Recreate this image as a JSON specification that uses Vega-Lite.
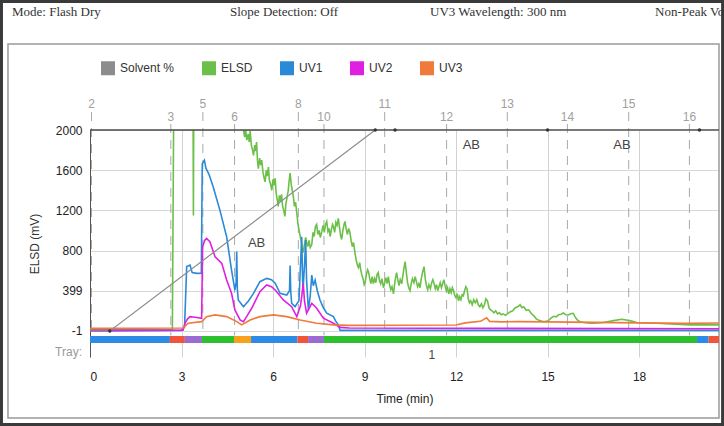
{
  "$schema": "https://vega.github.io/schema/vega-lite/v6.json",
  "width": 629,
  "height": 227,
  "autosize": {"type": "none"},
  "padding": {"left": 90, "top": 130, "right": 5, "bottom": 69},
  "background": "white",
  "config": {
    "view": {"stroke": null},
    "font": "Liberation Sans",
    "axis": {"labelFont": "Liberation Sans", "titleFont": "Liberation Sans", "titleFontWeight": "normal"}
  },
  "datasets": {
    "signals": [
      {"t": 0, "v": 10, "series": "ELSD"}, {"t": 2.7, "v": 12, "series": "ELSD"}, {"t": 2.76, "v": 3000, "series": "ELSD"}, {"t": 3.37, "v": 3000, "series": "ELSD"}, {"t": 3.39, "v": 1150, "series": "ELSD"}, {"t": 3.41, "v": 3000, "series": "ELSD"}, {"t": 5.0, "v": 3000, "series": "ELSD"},
      {"t": 5.03, "v": 2000, "series": "ELSD"}, {"t": 5.07, "v": 1930, "series": "ELSD"}, {"t": 5.1, "v": 2010, "series": "ELSD"}, {"t": 5.14, "v": 1900, "series": "ELSD"}, {"t": 5.19, "v": 1960, "series": "ELSD"}, {"t": 5.22, "v": 1880, "series": "ELSD"}, {"t": 5.25, "v": 1990, "series": "ELSD"}, {"t": 5.29, "v": 1850, "series": "ELSD"}, {"t": 5.33, "v": 1800, "series": "ELSD"}, {"t": 5.36, "v": 1748, "series": "ELSD"}, {"t": 5.4, "v": 1850, "series": "ELSD"}, {"t": 5.43, "v": 1790, "series": "ELSD"}, {"t": 5.46, "v": 1880, "series": "ELSD"}, {"t": 5.49, "v": 1700, "series": "ELSD"}, {"t": 5.52, "v": 1615, "series": "ELSD"}, {"t": 5.56, "v": 1720, "series": "ELSD"}, {"t": 5.6, "v": 1650, "series": "ELSD"}, {"t": 5.63, "v": 1700, "series": "ELSD"}, {"t": 5.67, "v": 1580, "series": "ELSD"}, {"t": 5.71, "v": 1520, "series": "ELSD"}, {"t": 5.74, "v": 1483, "series": "ELSD"}, {"t": 5.78, "v": 1600, "series": "ELSD"}, {"t": 5.81, "v": 1540, "series": "ELSD"}, {"t": 5.85, "v": 1630, "series": "ELSD"}, {"t": 5.88, "v": 1500, "series": "ELSD"}, {"t": 5.92, "v": 1460, "series": "ELSD"}, {"t": 5.96, "v": 1400, "series": "ELSD"}, {"t": 6.0, "v": 1510, "series": "ELSD"}, {"t": 6.03, "v": 1450, "series": "ELSD"}, {"t": 6.07, "v": 1520, "series": "ELSD"}, {"t": 6.1, "v": 1380, "series": "ELSD"}, {"t": 6.14, "v": 1300, "series": "ELSD"}, {"t": 6.17, "v": 1240, "series": "ELSD"}, {"t": 6.21, "v": 1350, "series": "ELSD"}, {"t": 6.24, "v": 1290, "series": "ELSD"}, {"t": 6.28, "v": 1360, "series": "ELSD"}, {"t": 6.31, "v": 1250, "series": "ELSD"}, {"t": 6.35, "v": 1200, "series": "ELSD"}, {"t": 6.39, "v": 1140, "series": "ELSD"}, {"t": 6.42, "v": 1260, "series": "ELSD"}, {"t": 6.46, "v": 1330, "series": "ELSD"}, {"t": 6.5, "v": 1400, "series": "ELSD"}, {"t": 6.53, "v": 1500, "series": "ELSD"}, {"t": 6.56, "v": 1570, "series": "ELSD"}, {"t": 6.6, "v": 1450, "series": "ELSD"}, {"t": 6.63, "v": 1400, "series": "ELSD"}, {"t": 6.67, "v": 1330, "series": "ELSD"}, {"t": 6.7, "v": 1240, "series": "ELSD"}, {"t": 6.74, "v": 1280, "series": "ELSD"}, {"t": 6.78, "v": 1170, "series": "ELSD"}, {"t": 6.82, "v": 1060, "series": "ELSD"}, {"t": 6.86, "v": 990, "series": "ELSD"}, {"t": 6.89, "v": 940, "series": "ELSD"}, {"t": 6.93, "v": 880, "series": "ELSD"}, {"t": 6.96, "v": 820, "series": "ELSD"}, {"t": 6.99, "v": 780, "series": "ELSD"}, {"t": 7.03, "v": 860, "series": "ELSD"}, {"t": 7.07, "v": 930, "series": "ELSD"}, {"t": 7.1, "v": 880, "series": "ELSD"}, {"t": 7.14, "v": 840, "series": "ELSD"}, {"t": 7.18, "v": 900, "series": "ELSD"}, {"t": 7.22, "v": 830, "series": "ELSD"}, {"t": 7.27, "v": 860, "series": "ELSD"}, {"t": 7.31, "v": 980, "series": "ELSD"}, {"t": 7.35, "v": 940, "series": "ELSD"}, {"t": 7.39, "v": 1040, "series": "ELSD"}, {"t": 7.43, "v": 1060, "series": "ELSD"}, {"t": 7.47, "v": 960, "series": "ELSD"}, {"t": 7.51, "v": 1000, "series": "ELSD"}, {"t": 7.55, "v": 930, "series": "ELSD"}, {"t": 7.6, "v": 990, "series": "ELSD"}, {"t": 7.64, "v": 1050, "series": "ELSD"}, {"t": 7.68, "v": 980, "series": "ELSD"}, {"t": 7.72, "v": 1060, "series": "ELSD"}, {"t": 7.76, "v": 1090, "series": "ELSD"}, {"t": 7.8, "v": 990, "series": "ELSD"}, {"t": 7.84, "v": 1020, "series": "ELSD"}, {"t": 7.87, "v": 940, "series": "ELSD"}, {"t": 7.91, "v": 1000, "series": "ELSD"}, {"t": 7.95, "v": 1060, "series": "ELSD"}, {"t": 7.98, "v": 1040, "series": "ELSD"}, {"t": 8.02, "v": 980, "series": "ELSD"}, {"t": 8.06, "v": 1080, "series": "ELSD"}, {"t": 8.1, "v": 1050, "series": "ELSD"}, {"t": 8.14, "v": 1120, "series": "ELSD"}, {"t": 8.18, "v": 1030, "series": "ELSD"}, {"t": 8.22, "v": 940, "series": "ELSD"}, {"t": 8.25, "v": 910, "series": "ELSD"}, {"t": 8.29, "v": 1000, "series": "ELSD"}, {"t": 8.33, "v": 1060, "series": "ELSD"}, {"t": 8.36, "v": 1090, "series": "ELSD"}, {"t": 8.4, "v": 1010, "series": "ELSD"}, {"t": 8.44, "v": 960, "series": "ELSD"}, {"t": 8.48, "v": 1020, "series": "ELSD"}, {"t": 8.52, "v": 980, "series": "ELSD"}, {"t": 8.56, "v": 900, "series": "ELSD"}, {"t": 8.6, "v": 840, "series": "ELSD"}, {"t": 8.64, "v": 880, "series": "ELSD"}, {"t": 8.69, "v": 770, "series": "ELSD"}, {"t": 8.73, "v": 700, "series": "ELSD"}, {"t": 8.77, "v": 650, "series": "ELSD"}, {"t": 8.8, "v": 630, "series": "ELSD"}, {"t": 8.84, "v": 680, "series": "ELSD"}, {"t": 8.88, "v": 600, "series": "ELSD"}, {"t": 8.91, "v": 560, "series": "ELSD"}, {"t": 8.95, "v": 520, "series": "ELSD"}, {"t": 8.99, "v": 460, "series": "ELSD"}, {"t": 9.02, "v": 480, "series": "ELSD"}, {"t": 9.06, "v": 560, "series": "ELSD"}, {"t": 9.1, "v": 610, "series": "ELSD"}, {"t": 9.13, "v": 590, "series": "ELSD"}, {"t": 9.17, "v": 520, "series": "ELSD"}, {"t": 9.21, "v": 470, "series": "ELSD"}, {"t": 9.25, "v": 540, "series": "ELSD"}, {"t": 9.29, "v": 470, "series": "ELSD"}, {"t": 9.33, "v": 520, "series": "ELSD"}, {"t": 9.37, "v": 480, "series": "ELSD"}, {"t": 9.41, "v": 560, "series": "ELSD"}, {"t": 9.45, "v": 580, "series": "ELSD"}, {"t": 9.49, "v": 500, "series": "ELSD"}, {"t": 9.53, "v": 470, "series": "ELSD"}, {"t": 9.57, "v": 520, "series": "ELSD"}, {"t": 9.62, "v": 430, "series": "ELSD"}, {"t": 9.66, "v": 480, "series": "ELSD"}, {"t": 9.7, "v": 530, "series": "ELSD"}, {"t": 9.74, "v": 470, "series": "ELSD"}, {"t": 9.78, "v": 540, "series": "ELSD"}, {"t": 9.82, "v": 460, "series": "ELSD"}, {"t": 9.86, "v": 410, "series": "ELSD"}, {"t": 9.9, "v": 440, "series": "ELSD"}, {"t": 9.95, "v": 370, "series": "ELSD"}, {"t": 10.0, "v": 500, "series": "ELSD"}, {"t": 10.05, "v": 580, "series": "ELSD"}, {"t": 10.09, "v": 510, "series": "ELSD"}, {"t": 10.13, "v": 450, "series": "ELSD"}, {"t": 10.17, "v": 510, "series": "ELSD"}, {"t": 10.22, "v": 470, "series": "ELSD"}, {"t": 10.26, "v": 560, "series": "ELSD"}, {"t": 10.29, "v": 620, "series": "ELSD"}, {"t": 10.33, "v": 690, "series": "ELSD"}, {"t": 10.37, "v": 580, "series": "ELSD"}, {"t": 10.41, "v": 480, "series": "ELSD"}, {"t": 10.45, "v": 430, "series": "ELSD"}, {"t": 10.49, "v": 400, "series": "ELSD"}, {"t": 10.53, "v": 470, "series": "ELSD"}, {"t": 10.57, "v": 520, "series": "ELSD"}, {"t": 10.62, "v": 480, "series": "ELSD"}, {"t": 10.66, "v": 540, "series": "ELSD"}, {"t": 10.7, "v": 490, "series": "ELSD"}, {"t": 10.74, "v": 440, "series": "ELSD"}, {"t": 10.78, "v": 470, "series": "ELSD"}, {"t": 10.82, "v": 430, "series": "ELSD"}, {"t": 10.86, "v": 520, "series": "ELSD"}, {"t": 10.9, "v": 580, "series": "ELSD"}, {"t": 10.95, "v": 640, "series": "ELSD"}, {"t": 10.99, "v": 520, "series": "ELSD"}, {"t": 11.03, "v": 450, "series": "ELSD"}, {"t": 11.07, "v": 410, "series": "ELSD"}, {"t": 11.11, "v": 460, "series": "ELSD"}, {"t": 11.16, "v": 420, "series": "ELSD"}, {"t": 11.2, "v": 480, "series": "ELSD"}, {"t": 11.24, "v": 510, "series": "ELSD"}, {"t": 11.28, "v": 470, "series": "ELSD"}, {"t": 11.32, "v": 420, "series": "ELSD"}, {"t": 11.36, "v": 460, "series": "ELSD"}, {"t": 11.4, "v": 400, "series": "ELSD"}, {"t": 11.44, "v": 440, "series": "ELSD"}, {"t": 11.48, "v": 480, "series": "ELSD"}, {"t": 11.52, "v": 430, "series": "ELSD"}, {"t": 11.56, "v": 470, "series": "ELSD"}, {"t": 11.6, "v": 510, "series": "ELSD"}, {"t": 11.64, "v": 450, "series": "ELSD"}, {"t": 11.68, "v": 400, "series": "ELSD"}, {"t": 11.72, "v": 430, "series": "ELSD"}, {"t": 11.76, "v": 370, "series": "ELSD"}, {"t": 11.8, "v": 420, "series": "ELSD"}, {"t": 11.84, "v": 380, "series": "ELSD"}, {"t": 11.88, "v": 430, "series": "ELSD"}, {"t": 11.92, "v": 400, "series": "ELSD"}, {"t": 11.96, "v": 350, "series": "ELSD"}, {"t": 12.0, "v": 330, "series": "ELSD"}, {"t": 12.04, "v": 370, "series": "ELSD"}, {"t": 12.08, "v": 300, "series": "ELSD"}, {"t": 12.12, "v": 340, "series": "ELSD"}, {"t": 12.16, "v": 310, "series": "ELSD"}, {"t": 12.2, "v": 360, "series": "ELSD"}, {"t": 12.24, "v": 350, "series": "ELSD"}, {"t": 12.28, "v": 400, "series": "ELSD"}, {"t": 12.32, "v": 440, "series": "ELSD"}, {"t": 12.36, "v": 420, "series": "ELSD"}, {"t": 12.4, "v": 320, "series": "ELSD"}, {"t": 12.44, "v": 280, "series": "ELSD"}, {"t": 12.48, "v": 300, "series": "ELSD"}, {"t": 12.53, "v": 260, "series": "ELSD"}, {"t": 12.58, "v": 310, "series": "ELSD"}, {"t": 12.63, "v": 280, "series": "ELSD"}, {"t": 12.68, "v": 310, "series": "ELSD"}, {"t": 12.73, "v": 260, "series": "ELSD"}, {"t": 12.78, "v": 240, "series": "ELSD"}, {"t": 12.83, "v": 270, "series": "ELSD"}, {"t": 12.88, "v": 230, "series": "ELSD"}, {"t": 12.93, "v": 260, "series": "ELSD"}, {"t": 12.98, "v": 320, "series": "ELSD"}, {"t": 13.03, "v": 300, "series": "ELSD"}, {"t": 13.08, "v": 230, "series": "ELSD"}, {"t": 13.13, "v": 210, "series": "ELSD"}, {"t": 13.18, "v": 200, "series": "ELSD"}, {"t": 13.24, "v": 180, "series": "ELSD"}, {"t": 13.3, "v": 200, "series": "ELSD"}, {"t": 13.36, "v": 170, "series": "ELSD"}, {"t": 13.42, "v": 180, "series": "ELSD"}, {"t": 13.48, "v": 160, "series": "ELSD"}, {"t": 13.55, "v": 170, "series": "ELSD"}, {"t": 13.62, "v": 155, "series": "ELSD"}, {"t": 13.7, "v": 175, "series": "ELSD"}, {"t": 13.78, "v": 190, "series": "ELSD"}, {"t": 13.86, "v": 200, "series": "ELSD"}, {"t": 13.94, "v": 230, "series": "ELSD"}, {"t": 14.02, "v": 240, "series": "ELSD"}, {"t": 14.1, "v": 260, "series": "ELSD"}, {"t": 14.16, "v": 230, "series": "ELSD"}, {"t": 14.22, "v": 240, "series": "ELSD"}, {"t": 14.3, "v": 205, "series": "ELSD"}, {"t": 14.38, "v": 210, "series": "ELSD"}, {"t": 14.46, "v": 175, "series": "ELSD"}, {"t": 14.55, "v": 150, "series": "ELSD"}, {"t": 14.63, "v": 120, "series": "ELSD"}, {"t": 14.72, "v": 105, "series": "ELSD"}, {"t": 14.82, "v": 95, "series": "ELSD"}, {"t": 14.92, "v": 92, "series": "ELSD"}, {"t": 15.02, "v": 100, "series": "ELSD"}, {"t": 15.12, "v": 130, "series": "ELSD"}, {"t": 15.2, "v": 145, "series": "ELSD"}, {"t": 15.28, "v": 140, "series": "ELSD"}, {"t": 15.36, "v": 160, "series": "ELSD"}, {"t": 15.44, "v": 165, "series": "ELSD"}, {"t": 15.52, "v": 178, "series": "ELSD"}, {"t": 15.6, "v": 160, "series": "ELSD"}, {"t": 15.68, "v": 158, "series": "ELSD"}, {"t": 15.76, "v": 170, "series": "ELSD"}, {"t": 15.84, "v": 175, "series": "ELSD"}, {"t": 15.92, "v": 130, "series": "ELSD"}, {"t": 16.0, "v": 100, "series": "ELSD"}, {"t": 16.1, "v": 88, "series": "ELSD"}, {"t": 16.3, "v": 78, "series": "ELSD"}, {"t": 16.5, "v": 76, "series": "ELSD"}, {"t": 16.83, "v": 83, "series": "ELSD"}, {"t": 17.16, "v": 102, "series": "ELSD"}, {"t": 17.43, "v": 116, "series": "ELSD"}, {"t": 17.7, "v": 102, "series": "ELSD"}, {"t": 17.92, "v": 83, "series": "ELSD"}, {"t": 18.58, "v": 76, "series": "ELSD"}, {"t": 19.67, "v": 60, "series": "ELSD"}, {"t": 20.62, "v": 60, "series": "ELSD"},
      {"t": 0, "v": 0, "series": "UV1"}, {"t": 3.0, "v": 5, "series": "UV1"}, {"t": 3.1, "v": 40, "series": "UV1"}, {"t": 3.17, "v": 640, "series": "UV1"}, {"t": 3.28, "v": 655, "series": "UV1"}, {"t": 3.35, "v": 580, "series": "UV1"}, {"t": 3.5, "v": 573, "series": "UV1"}, {"t": 3.65, "v": 575, "series": "UV1"}, {"t": 3.68, "v": 1665, "series": "UV1"}, {"t": 3.75, "v": 1700, "series": "UV1"}, {"t": 3.8, "v": 1620, "series": "UV1"}, {"t": 3.9, "v": 1560, "series": "UV1"}, {"t": 4.04, "v": 1433, "series": "UV1"}, {"t": 4.26, "v": 1200, "series": "UV1"}, {"t": 4.48, "v": 936, "series": "UV1"}, {"t": 4.64, "v": 606, "series": "UV1"}, {"t": 4.75, "v": 407, "series": "UV1"}, {"t": 4.79, "v": 480, "series": "UV1"}, {"t": 4.81, "v": 790, "series": "UV1"}, {"t": 4.83, "v": 420, "series": "UV1"}, {"t": 4.86, "v": 308, "series": "UV1"}, {"t": 5.03, "v": 241, "series": "UV1"}, {"t": 5.2, "v": 300, "series": "UV1"}, {"t": 5.36, "v": 374, "series": "UV1"}, {"t": 5.57, "v": 490, "series": "UV1"}, {"t": 5.79, "v": 523, "series": "UV1"}, {"t": 5.95, "v": 510, "series": "UV1"}, {"t": 6.07, "v": 474, "series": "UV1"}, {"t": 6.23, "v": 374, "series": "UV1"}, {"t": 6.45, "v": 357, "series": "UV1"}, {"t": 6.54, "v": 400, "series": "UV1"}, {"t": 6.56, "v": 650, "series": "UV1"}, {"t": 6.58, "v": 400, "series": "UV1"}, {"t": 6.61, "v": 275, "series": "UV1"}, {"t": 6.72, "v": 241, "series": "UV1"}, {"t": 6.85, "v": 300, "series": "UV1"}, {"t": 6.94, "v": 936, "series": "UV1"}, {"t": 6.97, "v": 500, "series": "UV1"}, {"t": 6.99, "v": 440, "series": "UV1"}, {"t": 7.04, "v": 700, "series": "UV1"}, {"t": 7.07, "v": 904, "series": "UV1"}, {"t": 7.1, "v": 500, "series": "UV1"}, {"t": 7.16, "v": 208, "series": "UV1"}, {"t": 7.22, "v": 350, "series": "UV1"}, {"t": 7.27, "v": 556, "series": "UV1"}, {"t": 7.32, "v": 450, "series": "UV1"}, {"t": 7.38, "v": 506, "series": "UV1"}, {"t": 7.45, "v": 400, "series": "UV1"}, {"t": 7.54, "v": 308, "series": "UV1"}, {"t": 7.65, "v": 230, "series": "UV1"}, {"t": 7.76, "v": 176, "series": "UV1"}, {"t": 7.98, "v": 142, "series": "UV1"}, {"t": 8.05, "v": 100, "series": "UV1"}, {"t": 8.14, "v": 60, "series": "UV1"}, {"t": 8.2, "v": 5, "series": "UV1"}, {"t": 20.62, "v": 5, "series": "UV1"},
      {"t": 0, "v": 5, "series": "UV2"}, {"t": 3.05, "v": 8, "series": "UV2"}, {"t": 3.12, "v": 80, "series": "UV2"}, {"t": 3.2, "v": 120, "series": "UV2"}, {"t": 3.28, "v": 142, "series": "UV2"}, {"t": 3.45, "v": 135, "series": "UV2"}, {"t": 3.66, "v": 126, "series": "UV2"}, {"t": 3.69, "v": 837, "series": "UV2"}, {"t": 3.76, "v": 900, "series": "UV2"}, {"t": 3.82, "v": 920, "series": "UV2"}, {"t": 3.93, "v": 887, "series": "UV2"}, {"t": 4.1, "v": 738, "series": "UV2"}, {"t": 4.32, "v": 672, "series": "UV2"}, {"t": 4.48, "v": 506, "series": "UV2"}, {"t": 4.64, "v": 374, "series": "UV2"}, {"t": 4.75, "v": 208, "series": "UV2"}, {"t": 4.92, "v": 109, "series": "UV2"}, {"t": 5.03, "v": 92, "series": "UV2"}, {"t": 5.15, "v": 150, "series": "UV2"}, {"t": 5.3, "v": 225, "series": "UV2"}, {"t": 5.57, "v": 390, "series": "UV2"}, {"t": 5.79, "v": 457, "series": "UV2"}, {"t": 5.95, "v": 440, "series": "UV2"}, {"t": 6.07, "v": 407, "series": "UV2"}, {"t": 6.34, "v": 308, "series": "UV2"}, {"t": 6.61, "v": 241, "series": "UV2"}, {"t": 6.78, "v": 142, "series": "UV2"}, {"t": 6.9, "v": 250, "series": "UV2"}, {"t": 6.94, "v": 341, "series": "UV2"}, {"t": 6.99, "v": 473, "series": "UV2"}, {"t": 7.03, "v": 300, "series": "UV2"}, {"t": 7.1, "v": 176, "series": "UV2"}, {"t": 7.27, "v": 275, "series": "UV2"}, {"t": 7.43, "v": 225, "series": "UV2"}, {"t": 7.65, "v": 126, "series": "UV2"}, {"t": 7.98, "v": 76, "series": "UV2"}, {"t": 8.2, "v": 35, "series": "UV2"}, {"t": 8.5, "v": 28, "series": "UV2"}, {"t": 20.62, "v": 22, "series": "UV2"},
      {"t": 0, "v": 25, "series": "UV3"}, {"t": 3.05, "v": 28, "series": "UV3"}, {"t": 3.22, "v": 76, "series": "UV3"}, {"t": 3.66, "v": 92, "series": "UV3"}, {"t": 3.82, "v": 142, "series": "UV3"}, {"t": 4.1, "v": 159, "series": "UV3"}, {"t": 4.48, "v": 142, "series": "UV3"}, {"t": 4.81, "v": 92, "series": "UV3"}, {"t": 4.97, "v": 60, "series": "UV3"}, {"t": 5.25, "v": 109, "series": "UV3"}, {"t": 5.57, "v": 142, "series": "UV3"}, {"t": 6.01, "v": 159, "series": "UV3"}, {"t": 6.45, "v": 142, "series": "UV3"}, {"t": 6.89, "v": 109, "series": "UV3"}, {"t": 7.43, "v": 76, "series": "UV3"}, {"t": 7.98, "v": 60, "series": "UV3"}, {"t": 8.5, "v": 55, "series": "UV3"}, {"t": 12.0, "v": 58, "series": "UV3"}, {"t": 12.3, "v": 80, "series": "UV3"}, {"t": 12.8, "v": 95, "series": "UV3"}, {"t": 13.0, "v": 130, "series": "UV3"}, {"t": 13.1, "v": 95, "series": "UV3"}, {"t": 13.5, "v": 90, "series": "UV3"}, {"t": 14.0, "v": 92, "series": "UV3"}, {"t": 15.0, "v": 90, "series": "UV3"}, {"t": 16.5, "v": 85, "series": "UV3"}, {"t": 18.0, "v": 80, "series": "UV3"}, {"t": 19.5, "v": 75, "series": "UV3"}, {"t": 20.62, "v": 78, "series": "UV3"}
    ],
    "solvent": [
      {"t": 0, "pct": 0, "series": "Solvent %"}, {"t": 0.65, "pct": 0, "series": "Solvent %"}, {"t": 9.35, "pct": 100, "series": "Solvent %"}, {"t": 20.62, "pct": 100, "series": "Solvent %"}
    ],
    "solventEvents": [
      {"t": 0.65, "pct": 0}, {"t": 9.35, "pct": 100}, {"t": 10.0, "pct": 100}, {"t": 15.0, "pct": 100}, {"t": 19.98, "pct": 100}
    ],
    "tray": [
      {"start": 0, "end": 2.62, "tube": "blue"}, {"start": 2.62, "end": 3.11, "tube": "red"}, {"start": 3.11, "end": 3.67, "tube": "purple"}, {"start": 3.67, "end": 4.72, "tube": "green"}, {"start": 4.72, "end": 5.28, "tube": "orange"}, {"start": 5.28, "end": 6.8, "tube": "blue"}, {"start": 6.8, "end": 7.15, "tube": "red"}, {"start": 7.15, "end": 7.67, "tube": "purple"}, {"start": 7.67, "end": 19.9, "tube": "green"}, {"start": 19.9, "end": 20.28, "tube": "blue"}, {"start": 20.28, "end": 20.62, "tube": "red"}
    ],
    "fractions": [
      {"frac": "2", "t": 0.05, "row": "upper"}, {"frac": "3", "t": 2.65, "row": "lower"}, {"frac": "5", "t": 3.7, "row": "upper"}, {"frac": "6", "t": 4.74, "row": "lower"}, {"frac": "8", "t": 6.83, "row": "upper"}, {"frac": "10", "t": 7.67, "row": "lower"}, {"frac": "11", "t": 9.66, "row": "upper"}, {"frac": "12", "t": 11.69, "row": "lower"}, {"frac": "13", "t": 13.68, "row": "upper"}, {"frac": "14", "t": 15.65, "row": "lower"}, {"frac": "15", "t": 17.66, "row": "upper"}, {"frac": "16", "t": 19.65, "row": "lower"}
    ],
    "annotations": [
      {"t": 5.46, "v": 874, "label": "AB"}, {"t": 12.5, "v": 1847, "label": "AB"}, {"t": 17.44, "v": 1847, "label": "AB"}
    ],
    "header": [
      {"t": -2.557, "label": "Mode: Flash Dry"}, {"t": 4.59, "label": "Slope Detection: Off"}, {"t": 11.148, "label": "UV3 Wavelength: 300 nm"}, {"t": 18.525, "label": "Non-Peak Vo"}
    ],
    "trays": [
      {"t": 11.21, "label": "1"}
    ]
  },
  "layer": [
    {
      "layer": [
        {
          "data": {"values": [{}]},
          "mark": {"type": "rect", "fill": null, "stroke": "#3a3a3a", "strokeWidth": 3},
          "encoding": {
            "x": {"datum": -2.902, "type": "quantitative", "scale": {"domain": [0, 20.62], "nice": false, "zero": false}},
            "x2": {"datum": 20.738},
            "y": {"datum": 3279, "type": "quantitative", "scale": {"domain": [-260, 2000], "nice": false, "zero": false}},
            "y2": {"datum": -932}
          }
        },
        {
          "data": {"values": [{}]},
          "mark": {"type": "rect", "fill": null, "stroke": "#9a9a9a", "strokeWidth": 1.5},
          "encoding": {
            "x": {"datum": -2.689, "type": "quantitative"},
            "x2": {"datum": 20.62},
            "y": {"datum": 2856, "type": "quantitative"},
            "y2": {"datum": -868}
          }
        },
        {
          "data": {"name": "header"},
          "mark": {"type": "text", "align": "left", "baseline": "middle", "font": "Liberation Serif", "fontSize": 13, "color": "#333"},
          "encoding": {
            "x": {"field": "t", "type": "quantitative"},
            "y": {"datum": 3175, "type": "quantitative"},
            "text": {"field": "label"}
          }
        },
        {
          "data": {"name": "fractions"},
          "transform": [{"filter": "datum.row === 'upper'"}],
          "mark": {"type": "rule", "color": "#a8a8a8", "strokeWidth": 1, "strokeDash": [9, 7]},
          "encoding": {
            "x": {"field": "t", "type": "quantitative"},
            "y": {"datum": 2179, "type": "quantitative"},
            "y2": {"datum": -45}
          }
        },
        {
          "data": {"name": "fractions"},
          "transform": [{"filter": "datum.row === 'lower'"}],
          "mark": {"type": "rule", "color": "#a8a8a8", "strokeWidth": 1, "strokeDash": [9, 7]},
          "encoding": {
            "x": {"field": "t", "type": "quantitative"},
            "y": {"datum": 2060, "type": "quantitative"},
            "y2": {"datum": -45}
          }
        },
        {
          "data": {"name": "fractions"},
          "transform": [{"filter": "datum.row === 'upper'"}],
          "mark": {"type": "text", "baseline": "middle", "align": "center", "fontSize": 12, "color": "#a0a0a0"},
          "encoding": {
            "x": {"field": "t", "type": "quantitative"},
            "y": {"datum": 2259, "type": "quantitative"},
            "text": {"field": "frac"}
          }
        },
        {
          "data": {"name": "fractions"},
          "transform": [{"filter": "datum.row === 'lower'"}],
          "mark": {"type": "text", "baseline": "middle", "align": "center", "fontSize": 12, "color": "#a0a0a0"},
          "encoding": {
            "x": {"field": "t", "type": "quantitative"},
            "y": {"datum": 2129, "type": "quantitative"},
            "text": {"field": "frac"}
          }
        },
        {
          "data": {"name": "tray"},
          "mark": {"type": "rect"},
          "encoding": {
            "x": {"field": "start", "type": "quantitative"},
            "x2": {"field": "end"},
            "y": {"datum": -51, "type": "quantitative"},
            "y2": {"datum": -121},
            "fill": {"field": "tube", "type": "nominal", "legend": null, "scale": {"domain": ["blue", "red", "purple", "green", "orange"], "range": ["#2d8be6", "#f0553c", "#9a6bd0", "#2dbf2d", "#f7a21f"]}}
          }
        },
        {
          "data": {"name": "signals"},
          "mark": {"type": "line", "strokeWidth": 1.6, "clip": true, "interpolate": "linear"},
          "encoding": {
            "x": {"field": "t", "type": "quantitative", "axis": {"values": [0, 3, 6, 9, 12, 15, 18], "title": "Time (min)", "grid": true, "gridColor": "#d2d2d2", "domain": false, "ticks": false, "labelPadding": 14, "labelFontSize": 12, "labelColor": "#222", "titleFontSize": 12, "titleColor": "#222", "titlePadding": 11}},
            "y": {"field": "v", "type": "quantitative", "axis": {"values": [-1, 399, 800, 1200, 1600, 2000], "labelExpr": "'' + datum.value", "title": "ELSD (mV)", "grid": true, "gridColor": "#d8d8d8", "domain": true, "domainColor": "#555", "ticks": false, "labelPadding": 8, "labelFontSize": 12, "labelColor": "#222", "titleFontSize": 12, "titleColor": "#333", "titlePadding": 14}},
            "color": {"field": "series", "type": "nominal", "scale": {"domain": ["Solvent %", "ELSD", "UV1", "UV2", "UV3"], "range": ["#8c8c8c", "#6cc04a", "#2a8ad8", "#e020e0", "#f07a3a"]},
              "legend": {"orient": "none", "legendX": 11, "legendY": -69, "direction": "horizontal", "title": null, "symbolType": "square", "symbolSize": 49, "symbolStrokeWidth": 7, "symbolOpacity": 1, "labelFontSize": 12, "labelColor": "#333", "labelOffset": 5, "columnPadding": 16}}
          }
        },
        {
          "data": {"values": [{}]},
          "mark": {"type": "rule", "color": "#4a4a4a", "strokeWidth": 1.6},
          "encoding": {"y": {"datum": 2000, "type": "quantitative"}}
        },
        {
          "data": {"name": "annotations"},
          "mark": {"type": "text", "fontSize": 13, "color": "#444", "baseline": "middle"},
          "encoding": {
            "x": {"field": "t", "type": "quantitative"},
            "y": {"field": "v", "type": "quantitative"},
            "text": {"field": "label"}
          }
        },
        {
          "data": {"values": [{"label": "Tray:"}]},
          "mark": {"type": "text", "align": "right", "baseline": "middle", "dx": -8, "fontSize": 12, "color": "#999"},
          "encoding": {
            "x": {"datum": 0, "type": "quantitative"},
            "y": {"datum": -210, "type": "quantitative"},
            "text": {"field": "label"}
          }
        },
        {
          "data": {"name": "trays"},
          "mark": {"type": "text", "baseline": "middle", "fontSize": 12, "color": "#444"},
          "encoding": {
            "x": {"field": "t", "type": "quantitative"},
            "y": {"datum": -240, "type": "quantitative"},
            "text": {"field": "label"}
          }
        }
      ]
    },
    {
      "layer": [
        {
          "data": {"name": "solvent"},
          "mark": {"type": "line", "strokeWidth": 1.2, "clip": true},
          "encoding": {
            "x": {"field": "t", "type": "quantitative"},
            "y": {"field": "pct", "type": "quantitative", "axis": null, "scale": {"domain": [-12.94, 100], "nice": false, "zero": false}},
            "color": {"field": "series", "type": "nominal", "scale": {"domain": ["Solvent %", "ELSD", "UV1", "UV2", "UV3"], "range": ["#8c8c8c", "#6cc04a", "#2a8ad8", "#e020e0", "#f07a3a"]}}
          }
        },
        {
          "data": {"name": "solventEvents"},
          "mark": {"type": "point", "filled": true, "size": 12, "color": "#333", "opacity": 1},
          "encoding": {
            "x": {"field": "t", "type": "quantitative"},
            "y": {"field": "pct", "type": "quantitative"}
          }
        }
      ]
    }
  ],
  "resolve": {"scale": {"y": "independent"}, "axis": {"y": "independent"}}
}
